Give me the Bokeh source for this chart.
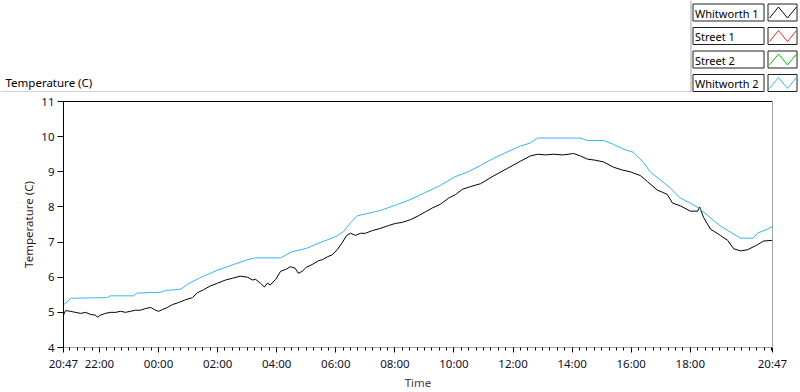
import pandas as pd
from bokeh.plotting import figure
from bokeh.models import Range1d, FixedTicker, LinearAxis, DatetimeTickFormatter
from bokeh.core.properties import value
from bokeh.embed import file_html
from bokeh.resources import INLINE

# ---------------- data ----------------
start_date = "2015-03-10"
w1_clock = ["20:47", "20:51", "21:01", "21:11", "21:22", "21:32", "21:42", "21:52", "21:56", "22:02",
            "22:12", "22:22", "22:33", "22:43", "22:53", "23:03", "23:13", "23:23", "23:34", "23:44",
            "23:54", "00:00", "00:08", "00:18", "00:28", "00:41", "00:55", "01:09", "01:19", "01:31",
            "01:45", "02:00", "02:16", "02:30", "02:46", "03:01", "03:11", "03:17", "03:27", "03:35",
            "03:41", "03:47", "03:58", "04:08", "04:18", "04:28", "04:38", "04:44", "04:52", "05:00",
            "05:12", "05:25", "05:33", "05:43", "05:53", "06:04", "06:14", "06:22", "06:30", "06:40",
            "06:50", "07:00", "07:15", "07:31", "07:47", "08:01", "08:15", "08:32", "08:48", "09:02",
            "09:16", "09:33", "09:49", "10:03", "10:17", "10:34", "10:54", "11:20", "11:49", "12:15",
            "12:35", "12:50", "13:06", "13:22", "13:42", "14:03", "14:17", "14:31", "14:47", "15:04",
            "15:24", "15:42", "15:58", "16:19", "16:33", "16:53", "17:03", "17:13", "17:24", "17:40",
            "18:00", "18:15", "18:19", "18:27", "18:41", "19:01", "19:16", "19:28", "19:42", "19:56",
            "20:16", "20:29", "20:47"]
whitworth1 = [4.92, 5.05, 5.03, 5.00, 4.97, 5.00, 4.94, 4.92, 4.86, 4.92,
              4.97, 5.00, 5.00, 5.03, 5.00, 5.03, 5.06, 5.06, 5.11, 5.14,
              5.06, 5.03, 5.08, 5.14, 5.22, 5.28, 5.36, 5.42, 5.56, 5.64,
              5.75, 5.83, 5.92, 5.97, 6.03, 6.00, 5.92, 5.94, 5.83, 5.72,
              5.83, 5.78, 5.94, 6.17, 6.22, 6.30, 6.25, 6.11, 6.17, 6.28,
              6.36, 6.47, 6.50, 6.58, 6.64, 6.80, 7.00, 7.19, 7.25, 7.19,
              7.25, 7.25, 7.33, 7.39, 7.47, 7.53, 7.56, 7.64, 7.75, 7.86,
              7.97, 8.08, 8.25, 8.35, 8.50, 8.58, 8.66, 8.88, 9.10, 9.30,
              9.45, 9.50, 9.48, 9.50, 9.48, 9.52, 9.45, 9.36, 9.33, 9.28,
              9.13, 9.05, 9.00, 8.89, 8.72, 8.48, 8.42, 8.36, 8.11, 8.03,
              7.88, 7.88, 8.00, 7.70, 7.37, 7.19, 7.05, 6.81, 6.75, 6.78,
              6.92, 7.03, 7.05]
w2_clock = ["20:47", "20:55", "21:01", "22:16", "22:22", "23:09", "23:17", "00:04", "00:14", "00:45",
            "00:59", "01:19", "01:35", "02:00", "02:30", "03:01", "03:17", "04:08", "04:30", "05:00",
            "05:31", "05:59", "06:16", "06:30", "06:44", "07:00", "07:31", "08:01", "08:30", "09:00",
            "09:31", "10:01", "10:32", "10:54", "11:20", "11:49", "12:15", "12:35", "12:50", "14:03",
            "14:17", "14:31", "15:04", "15:24", "15:45", "16:05", "16:25", "16:39", "17:00", "17:20",
            "17:40", "18:00", "18:17", "18:41", "19:01", "19:22", "19:42", "20:08", "20:16", "20:37",
            "20:47"]
whitworth2 = [5.22, 5.30, 5.40, 5.42, 5.47, 5.47, 5.55, 5.57, 5.62, 5.66,
              5.80, 5.95, 6.05, 6.20, 6.35, 6.50, 6.55, 6.55, 6.72, 6.82,
              7.00, 7.15, 7.30, 7.55, 7.75, 7.80, 7.90, 8.05, 8.20, 8.40,
              8.60, 8.85, 9.02, 9.18, 9.38, 9.57, 9.73, 9.82, 9.96, 9.96,
              9.96, 9.89, 9.89, 9.78, 9.64, 9.55, 9.27, 8.99, 8.76, 8.53,
              8.25, 8.11, 7.97, 7.69, 7.46, 7.28, 7.11, 7.11, 7.25, 7.37,
              7.44]
series_names = ["Whitworth 1", "Street 1", "Street 2", "Whitworth 2"]
series_colors = ["#000000", "#ff2020", "#00d000", "#36b4f0"]
x_tick_clock = ["20:47", "22:00", "00:00", "02:00", "04:00", "06:00", "08:00",
                "10:00", "12:00", "14:00", "16:00", "18:00", "20:47"]
y_ticks = [4, 5, 6, 7, 8, 9, 10, 11]
y_label = "Temperature (C)"
x_label = "Time"


def to_times(labels):
    out = []
    day = pd.Timestamp(start_date)
    prev = None
    for s in labels:
        t = pd.Timestamp(f"{day.date()} {s}")
        if prev is not None and t <= prev:
            day = day + pd.Timedelta(days=1)
            t = pd.Timestamp(f"{day.date()} {s}")
        out.append(t)
        prev = t
    return out


w1_times = to_times(w1_clock)
w2_times = to_times(w2_clock)
tick_times = to_times(x_tick_clock)
t0, t1 = tick_times[0], tick_times[-1]
ms = lambda t: t.value / 1e6
minor = [ms(t) for t in pd.date_range(t0.ceil("15min"), t1, freq="15min")]

FONT = "Noto Sans"
FS = "11.5px"
W = 800
TOP_H = 92
MAIN_H = 300

# ---------------- top band: title + legend (pixel space figure) ----------------
top = figure(width=W, height=TOP_H, x_range=Range1d(0, W), y_range=Range1d(TOP_H, 0),
             output_backend="svg", toolbar_location=None, min_border=0,
             x_axis_location=None, y_axis_location=None)
top.grid.visible = False
top.outline_line_color = None
top.background_fill_color = "white"
top.border_fill_color = "white"

top.text(x=[5], y=[81.5], text=[y_label], text_font=value(FONT), text_font_size=FS,
         text_baseline="middle", text_color="#000000")

top.line([0, 690.5], [91.5, 91.5], line_color="#a0a0a0", line_width=1)
top.line([690.5, 690.5], [0, 92], line_color="#a0a0a0", line_width=1)

row_tops = [3.5, 27.0, 50.5, 74.0]
row_h = 17
for name, col, ty in zip(series_names, series_colors, row_tops):
    for (l, r) in ((692.5, 763.5), (767.5, 796.5)):
        top.quad(left=[l], right=[r], top=[ty], bottom=[ty + row_h], fill_color="white",
                 line_color="#202020", line_width=1)
    top.text(x=[694.5], y=[ty + row_h / 2 + 0.5], text=[name], text_font=value(FONT),
             text_font_size="11px", text_baseline="middle", text_color="#000000")
    top.line([769, 778, 787, 796], [ty + 14, ty + 3, ty + 14, ty + 3],
             line_color=col, line_width=1)

# ---------------- main chart ----------------
p = figure(width=W, height=MAIN_H, x_axis_type="datetime",
           x_range=Range1d(ms(t0), ms(t1)), y_range=Range1d(4, 11),
           output_backend="svg", toolbar_location=None,
           min_border_left=63, min_border_right=28, min_border_top=9, min_border_bottom=39)
p.grid.visible = False
p.outline_line_color = None
p.background_fill_color = "white"
p.border_fill_color = "white"

p.line(w1_times, whitworth1, line_color=series_colors[0], line_width=1)
p.line(w2_times, whitworth2, line_color=series_colors[3], line_width=1)

fmt = "%H:%M"
xa = p.xaxis[0]
xa.ticker = FixedTicker(ticks=[ms(t) for t in tick_times], minor_ticks=minor)
xa.formatter = DatetimeTickFormatter(milliseconds=fmt, seconds=fmt, minsec=fmt, minutes=fmt,
                                     hourmin=fmt, hours=fmt, days=fmt, months=fmt, years=fmt)
xa.axis_label = x_label
xa.axis_line_color = "#a0a0a0"
xa.major_tick_line_color = "#000000"
xa.minor_tick_line_color = "#000000"
xa.major_tick_in = 0
xa.major_tick_out = 5
xa.minor_tick_in = 0
xa.minor_tick_out = 3
xa.major_label_standoff = 3
xa.axis_label_standoff = 1

ya = p.yaxis[0]
ya.ticker = FixedTicker(ticks=y_ticks)
ya.axis_label = y_label
ya.axis_line_color = "#000000"
ya.major_tick_line_color = "#000000"
ya.major_tick_in = 0
ya.major_tick_out = 6
ya.minor_tick_line_color = None
ya.major_label_standoff = 3
ya.axis_label_standoff = 2
ya.axis_label_text_color = "#3a1010"

for ax in (xa, ya):
    ax.major_label_text_font = FONT
    ax.major_label_text_font_size = FS
    ax.major_label_text_color = "#10102a"
    ax.axis_label_text_font = FONT
    ax.axis_label_text_font_size = FS
    ax.axis_label_text_font_style = "normal"

for loc, colr in (("above", "#000000"), ("right", "#a0a0a0")):
    ax = LinearAxis(ticker=FixedTicker(ticks=[]), axis_line_color=colr,
                    major_label_text_font_size="0px", major_tick_out=0, major_tick_in=0,
                    minor_tick_out=0, minor_tick_in=0, major_label_standoff=0)
    p.add_layout(ax, loc)

open("out.html", "w").write(file_html([top, p], INLINE))
